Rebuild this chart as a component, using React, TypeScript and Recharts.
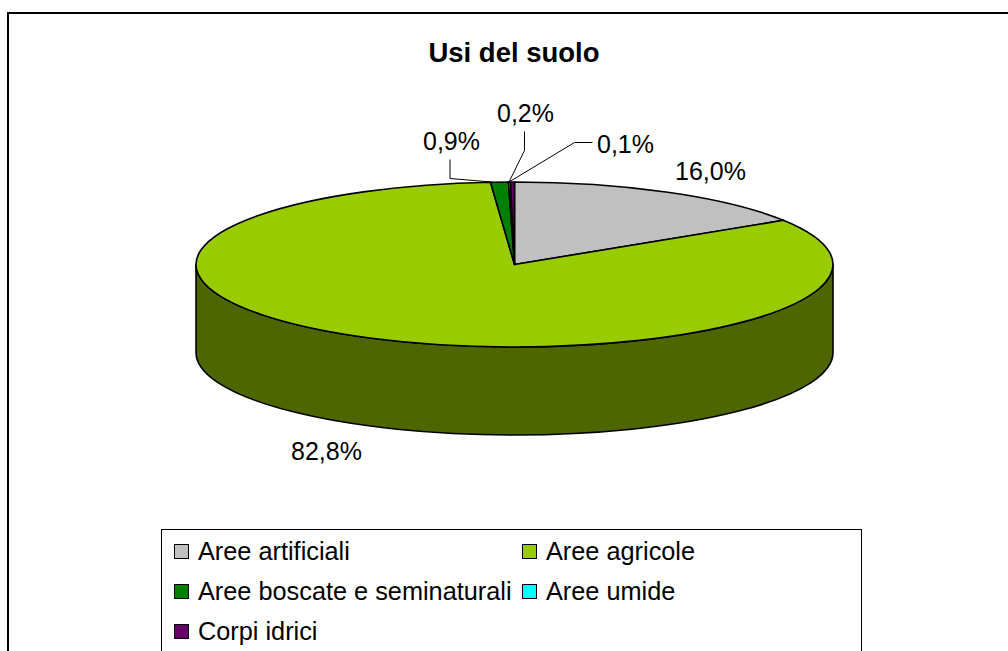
import { PieChart, Pie, Cell, Legend } from 'recharts';

const categories = ['Aree artificiali', 'Aree agricole', 'Aree boscate e seminaturali', 'Aree umide', 'Corpi idrici'];
const shares = [16.0, 82.8, 0.9, 0.1, 0.2];
const labels = ['16,0%', '82,8%', '0,9%', '0,1%', '0,2%'];
const colors = ['#C0C0C0', '#99CC00', '#008000', '#00FFFF', '#660066'];
const sideColors = ['#606060', '#4D6600', '#004000', '#008080', '#330033'];

const data = categories.map((name, i) => ({ name, value: shares[i], label: labels[i] }));

const FONT = '"Liberation Sans", Arial, sans-serif';
const CX = 514.5;
const CY = 264.5;
const RX = 318.5;
const RY = 82.5;
const DEPTH = 88;

// label centre and leader line, relative to the pie centre
const labelSpots = [
  { dx: 196, dy: -94, leader: null },
  { dx: -188, dy: 186, leader: null },
  { dx: -63, dy: -124, leader: [[-64.5, -105], [-64.5, -86], [-23, -82.5]] },
  { dx: 111, dy: -121, leader: [[78, -122], [60, -122], [-5.5, -82.5]] },
  { dx: 11, dy: -152, leader: [[10, -133], [10, -114], [-5.5, -82.5]] },
];

const pt = (angle: number, dy = 0) => {
  const rad = (angle * Math.PI) / 180;
  return `${CX + RX * Math.cos(rad)} ${CY - RY * Math.sin(rad) + dy}`;
};

// flattened slice, angles come from the Pie
function TopSlice(props: any) {
  const { startAngle, endAngle, fill } = props;
  const large = Math.abs(startAngle - endAngle) > 180 ? 1 : 0;
  return (
    <path
      d={`M${CX} ${CY} L${pt(startAngle)} A${RX} ${RY} 0 ${large} 1 ${pt(endAngle)} Z`}
      fill={fill}
      stroke="#000"
      strokeWidth={1.6}
      strokeLinejoin="round"
    />
  );
}

// outer wall, only the part on the front half of the pie
function SideSlice(props: any) {
  const { startAngle, endAngle, fill } = props;
  const hi = Math.min(startAngle, 0);
  const lo = Math.max(endAngle, -180);
  if (hi <= lo) return <g />;
  return (
    <path
      d={`M${pt(hi)} A${RX} ${RY} 0 0 1 ${pt(lo)} L${pt(lo, DEPTH)} A${RX} ${RY} 0 0 0 ${pt(hi, DEPTH)} Z`}
      fill={fill}
      stroke="#000"
      strokeWidth={1.6}
      strokeLinejoin="round"
    />
  );
}

function SliceLabel(props: any) {
  const spot = labelSpots[props.index];
  return (
    <g>
      {spot.leader && (
        <polyline
          points={spot.leader.map(([x, y]) => `${CX + x},${CY + y}`).join(' ')}
          fill="none"
          stroke="#000"
          strokeWidth={1}
        />
      )}
      <text
        x={CX + spot.dx}
        y={CY + spot.dy}
        textAnchor="middle"
        dominantBaseline="central"
        fontFamily={FONT}
        fontSize={25}
        fill="#000"
      >
        {labels[props.index]}
      </text>
    </g>
  );
}

function LegendBox({ payload }: any) {
  // both pies report items, keep the ones of the top faces
  const items = categories.map((name, i) =>
    (payload || []).find((p: any) => p.value === name && p.color === colors[i]),
  ).filter(Boolean);
  return (
    <div
      style={{
        boxSizing: 'border-box',
        width: 701,
        height: 140,
        background: '#fff',
        border: '1px solid #000',
        display: 'grid',
        gridTemplateColumns: '348px 340px',
        gridAutoRows: '40px',
        paddingLeft: 12,
        paddingTop: 1,
        fontFamily: FONT,
        fontSize: 25.3,
        color: '#000',
      }}
    >
      {items.map((item: any) => (
        <div key={item.value} style={{ display: 'flex', alignItems: 'center', whiteSpace: 'nowrap' }}>
          <span
            style={{
              boxSizing: 'border-box',
              width: 15,
              height: 15,
              marginRight: 9,
              background: item.color,
              border: '1px solid #000',
              flex: 'none',
            }}
          />
          {item.value}
        </div>
      ))}
    </div>
  );
}

export default function App() {
  return (
    <div style={{ position: 'absolute', left: 0, top: 0, width: 1008, height: 651, overflow: 'hidden', background: '#fff' }}>
      <div style={{ position: 'absolute', left: 7, top: 12, width: 1001, height: 639, borderLeft: '2px solid #000', borderTop: '2px solid #000', boxSizing: 'border-box' }} />
      <PieChart width={1008} height={651} style={{ position: 'absolute', left: 0, top: 0 }}>
        <text x={514} y={52} textAnchor="middle" dominantBaseline="central" fontFamily={FONT} fontSize={27.5} fontWeight={700} fill="#000">
          Usi del suolo
        </text>
        <Pie
          data={data}
          dataKey="value"
          nameKey="name"
          cx={CX}
          cy={CY}
          outerRadius={RX}
          startAngle={90}
          endAngle={-270}
          legendType="none"
          isAnimationActive={false}
          shape={SideSlice}
        >
          {sideColors.map((c) => (
            <Cell key={c} fill={c} />
          ))}
        </Pie>
        <Pie
          data={data}
          dataKey="value"
          nameKey="name"
          cx={CX}
          cy={CY}
          outerRadius={RX}
          startAngle={90}
          endAngle={-270}
          legendType="square"
          isAnimationActive={false}
          shape={TopSlice}
          label={SliceLabel}
          labelLine={false}
        >
          {colors.map((c) => (
            <Cell key={c} fill={c} />
          ))}
        </Pie>
        <Legend
          content={<LegendBox />}
          wrapperStyle={{ position: 'absolute', left: 161, top: 529, width: 701, height: 140, bottom: 'auto' }}
        />
      </PieChart>
    </div>
  );
}
